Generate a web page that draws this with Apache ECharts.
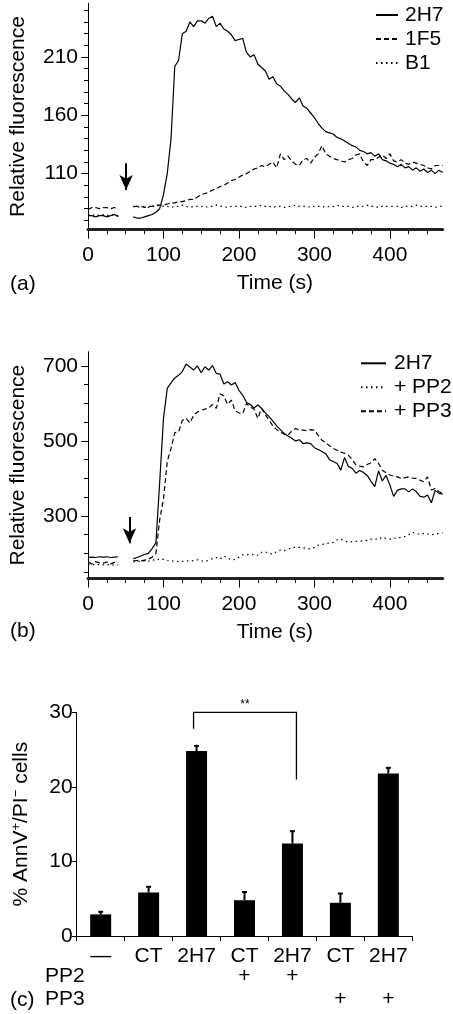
<!DOCTYPE html>
<html><head><meta charset="utf-8">
<script src="https://cdn.jsdelivr.net/npm/echarts@6/dist/echarts.min.js"></script>
<style>html,body{margin:0;padding:0;background:#fff}#c{width:453px;height:1014px}</style>
</head><body><div id="c"></div>
<script>
// ---------- DATA ----------
const timeS = [0,5,10,15,20,25,30,35,40,45,50,55,60,65,70,75,80,85,90,95,100,105,110,115,120,125,130,135,140,145,150,155,160,165,170,175,180,185,190,195,200,205,210,215,220,225,230,235,240,245,250,255,260,265,270,275,280,285,290,295,300,305,310,315,320,325,330,335,340,345,350,355,360,365,370,375,380,385,390,395,400,405,410,415,420,425,430,435,440,445,450,455,460,465,470];

// Panel (a)
const a2H7 = [74,74,73,74,74,73,74,75,73,null,
  null,null,73,72,72,73,74,75,77,80,
  92,110,140,202,207,230,232,240,236,241,
  241,239,243,245,236,239,234,232,229,224,
  225,226,214,210,212,204,201,198,191,193,
  187,185,181,178,174,171,175,168,166,162,
  158,153,149,146,145,144,141,140,138,136,
  134,133,130,129,127,128,125,127,122,121,
  119,118,116,118,115,116,113,115,112,114,
  111,113,110,113,111];
const a1F5 = [79,81,81,80,81,81,80,81,80,null,
  null,null,82,82,82,81,82,82,83,83,
  83,84,85,85,86,86,87,88,88,90,
  92,93,94,96,97,99,100,102,104,105,
  107,109,110,112,114,115,117,116,118,120,
  115,127,122,125,121,118,117,122,123,119,
  124,127,134,127,125,123,122,121,120,122,
  123,126,127,120,117,122,122,124,126,123,
  127,121,120,122,119,118,120,119,118,117,
  115,114,117,117,117];
const aB1 = [75,74,75,74,75,74,75,75,74,null,
  null,null,82,81,82,82,81,82,82,83,
  82,82,81,82,82,83,82,81,82,82,
  82,81,82,82,83,82,82,81,82,82,
  82,82,81,82,82,82,83,82,82,81,
  82,82,81,82,82,83,82,82,82,81,
  82,82,82,81,82,82,83,82,82,82,
  81,82,82,82,83,82,82,81,82,82,
  82,82,82,81,82,82,82,83,82,82,
  82,82,81,82,82];
const aYTicks = [110,160,210];
const aXTicks = [0,100,200,300,400];
const aArrow = [50.5, 119, 96];   // time, start value, end value

// Panel (b)
const b2H7 = [189,190,189,191,190,191,189,190,191,null,
  null,null,186,189,193,197,200,213,228,390,
  560,640,655,668,675,685,705,697,689,700,
  682,698,689,701,680,678,652,658,649,656,
  635,622,603,597,588,596,587,575,565,553,
  540,530,520,513,507,500,503,493,495,493,
  482,477,472,466,450,445,440,422,456,432,
  427,414,421,416,408,392,378,420,393,408,
  382,352,368,372,372,364,372,365,352,350,
  356,335,368,360,358];
const bPP2 = [170,168,172,170,169,171,168,170,169,null,
  null,null,178,179,178,180,179,183,181,186,
  184,181,179,180,178,179,180,179,181,183,
  180,178,182,186,189,185,193,188,182,184,
  190,196,197,196,198,195,203,204,200,198,
  205,209,207,212,214,217,216,215,213,212,
  216,222,224,225,228,229,236,238,233,230,
  231,232,232,234,235,238,239,237,243,240,
  238,241,240,244,245,250,256,254,250,253,
  252,249,252,253,255];
const bPP3 = [176,172,178,175,174,177,172,176,174,null,
  null,null,180,181,180,182,184,190,200,290,
  345,445,480,522,524,555,560,548,568,577,
  582,585,588,597,587,626,620,598,609,580,
  575,573,600,590,585,560,587,570,555,540,
  530,524,518,515,527,533,529,529,527,530,
  529,515,502,495,487,480,475,470,467,462,
  450,436,433,431,437,442,453,440,422,415,
  409,406,404,400,402,404,401,400,395,391,
  404,369,373,365,360];
const bYTicks = [300,500,700];
const bXTicks = [0,100,200,300,400];
const bArrow = [55, 297, 227];

// Panel (c)
const cCats = ['\u2014','CT','2H7','CT','2H7','CT','2H7'];
const cPP2 = ['','','','+','+','',''];
const cPP3 = ['','','','','','+','+'];
const cMeans = [2.9, 5.85, 24.8, 4.8, 12.4, 4.45, 21.8];
const cErrs = [0.35, 0.75, 0.7, 1.1, 1.65, 1.25, 0.75];
const cBracket = [2, 4, 27.8, 30.0, 21.0]; // left cat, right cat, left foot, top, right foot
const cSig = '**';

// ---------- CHART ----------
const FF = '"Liberation Sans", Arial, Helvetica, sans-serif';
const BLK = '#000';
const FS = 21;
const chart = echarts.init(document.getElementById('c'), null, {renderer: 'canvas'});

function minorVals(lo, hi, step, majors) {
  const out = [];
  for (let v = lo; v <= hi + 1e-9; v += step) if (majors.indexOf(v) < 0) out.push(v);
  return out;
}
function pairs(vals) { return timeS.map((t, i) => [t, vals[i] === null ? '-' : vals[i]]); }

const lab = {fontFamily: FF, fontSize: FS, color: BLK};

function xMain(gi, ticks) {
  return {type: 'value', gridIndex: gi, min: 0, max: 470, position: 'bottom',
    axisLine: {show: true, lineStyle: {color: '#222', width: 3}},
    axisTick: {show: true, customValues: ticks, length: 9, lineStyle: {color: BLK, width: 1}},
    axisLabel: Object.assign({customValues: ticks, margin: 15}, lab),
    splitLine: {show: false},
    name: 'Time (s)', nameLocation: 'middle', nameGap: 43,
    nameTextStyle: Object.assign({padding: [0, 0, 0, 19]}, lab)};
}
function xMinor(gi, ticks) {
  return {type: 'value', gridIndex: gi, min: 0, max: 470, position: 'bottom',
    axisLine: {show: false},
    axisTick: {show: true, customValues: minorVals(25, 450, 25, ticks), length: 4.5, lineStyle: {color: BLK, width: 1}},
    axisLabel: {show: false}, splitLine: {show: false}};
}
function yMain(gi, mn, mx, ticks) {
  return {type: 'value', gridIndex: gi, min: mn, max: mx, position: 'left',
    axisLine: {show: true, lineStyle: {color: BLK, width: 1}},
    axisTick: {show: true, customValues: ticks, length: 7, lineStyle: {color: BLK, width: 1}},
    axisLabel: Object.assign({customValues: ticks, margin: 10}, lab),
    splitLine: {show: false},
    name: 'Relative fluorescence', nameLocation: 'middle', nameGap: 59,
    nameTextStyle: lab};
}
function yMinor(gi, mn, mx, vals) {
  return {type: 'value', gridIndex: gi, min: mn, max: mx, position: 'left',
    axisLine: {show: false},
    axisTick: {show: true, customValues: vals, length: 4, lineStyle: {color: BLK, width: 1}},
    axisLabel: {show: false}, splitLine: {show: false}};
}
function lineSeries(name, xi, yi, vals, type) {
  return {type: 'line', name: name, xAxisIndex: xi, yAxisIndex: yi, data: pairs(vals),
    symbol: 'none', connectNulls: false, animation: false,
    lineStyle: {color: BLK, width: 1.2, type: type}, itemStyle: {color: BLK}};
}
function arrowMark(arr) {
  return {silent: true, symbol: ['none', 'arrow'], symbolSize: [10, 15],
    lineStyle: {color: BLK, width: 2, type: 'solid'}, label: {show: false},
    data: [[{coord: [arr[0], arr[1]]}, {coord: [arr[0], arr[2]]}]]};
}

const DASH = [5, 3];
const DOT = [1.5, 3.5];

const s_a2H7 = lineSeries('2H7', 0, 0, a2H7, 'solid');
s_a2H7.markLine = arrowMark(aArrow);
const s_b2H7 = lineSeries('2H7', 2, 2, b2H7, 'solid');
s_b2H7.markLine = arrowMark(bArrow);

const legendBase = {orient: 'vertical', padding: 0, itemHeight: 12, itemGap: 3, selectedMode: false,
  itemStyle: {opacity: 0, borderWidth: 0}};

const option = {
  animation: false,
  backgroundColor: '#fff',
  textStyle: {fontFamily: FF},
  grid: [
    {left: 86.7, top: 3.3, width: 356, height: 226.4},
    {left: 86.7, top: 351.7, width: 356, height: 226.8},
    {left: 76.7, top: 712.3, width: 335.6, height: 223.7}
  ],
  legend: [
    Object.assign({data: ['2H7', '1F5', 'B1'], left: 375, top: 4.5, itemWidth: 22,
      textStyle: Object.assign({lineHeight: 21, padding: [0, 0, 0, 2]}, lab)}, legendBase),
    Object.assign({data: ['2H7', '+ PP2', '+ PP3'], left: 360, top: 352.8, itemWidth: 25,
      textStyle: Object.assign({lineHeight: 21, padding: [0, 0, 0, 3]}, lab)}, legendBase)
  ],
  xAxis: [
    xMain(0, aXTicks), xMinor(0, aXTicks),
    xMain(1, bXTicks), xMinor(1, bXTicks),
    {type: 'category', gridIndex: 2, data: cCats, position: 'bottom',
      axisLine: {show: true, lineStyle: {color: BLK, width: 1}},
      axisTick: {show: true, alignWithLabel: false, length: 5, lineStyle: {color: BLK}},
      axisLabel: Object.assign({margin: 10, interval: 0}, lab), splitLine: {show: false}},
    {type: 'category', gridIndex: 2, data: cPP2, position: 'bottom', offset: 20,
      axisLine: {show: false}, axisTick: {show: false},
      axisLabel: Object.assign({margin: 10, interval: 0}, lab)},
    {type: 'category', gridIndex: 2, data: cPP3, position: 'bottom', offset: 43,
      axisLine: {show: false}, axisTick: {show: false},
      axisLabel: Object.assign({margin: 10, interval: 0}, lab)}
  ],
  yAxis: [
    yMain(0, 62, 256, aYTicks), yMinor(0, 62, 256, minorVals(70, 250, 10, aYTicks)),
    yMain(1, 133, 738, bYTicks), yMinor(1, 133, 738, minorVals(150, 650, 50, bYTicks)),
    {type: 'value', gridIndex: 2, min: 0, max: 30, interval: 10, position: 'left',
      axisLine: {show: true, lineStyle: {color: BLK, width: 1}},
      axisTick: {show: true, length: 5, lineStyle: {color: BLK}},
      axisLabel: Object.assign({margin: 4}, lab), splitLine: {show: false},
      name: '% AnnV{sup|+}/PI{sup|\u2212} cells', nameLocation: 'middle', nameGap: 44,
      nameTextStyle: Object.assign({lineHeight: 23, rich: {
        sup: {fontFamily: FF, fontSize: 13, color: BLK, verticalAlign: 'top', lineHeight: 23}
      }}, lab)}
  ],
  series: [
    s_a2H7,
    lineSeries('1F5', 0, 0, a1F5, DASH),
    lineSeries('B1', 0, 0, aB1, DOT),
    s_b2H7,
    lineSeries('+ PP2', 2, 2, bPP2, DOT),
    lineSeries('+ PP3', 2, 2, bPP3, DASH),
    {type: 'bar', xAxisIndex: 4, yAxisIndex: 4, data: cMeans, barWidth: 21,
      itemStyle: {color: BLK}, z: 2},
    {type: 'custom', xAxisIndex: 4, yAxisIndex: 4, z: 3,
      data: cMeans.map((m, i) => [i, m, cErrs[i]]),
      renderItem: function (params, api) {
        const i = api.value(0), m = api.value(1), e = api.value(2);
        const b = api.coord([i, m]), t = api.coord([i, m + e]);
        return {type: 'group', children: [
          {type: 'line', shape: {x1: b[0], y1: b[1], x2: t[0], y2: t[1]}, style: {stroke: BLK, lineWidth: 2}},
          {type: 'line', shape: {x1: t[0] - 2.5, y1: t[1], x2: t[0] + 2.5, y2: t[1]}, style: {stroke: BLK, lineWidth: 2}}
        ]};
      }},
    {type: 'custom', xAxisIndex: 4, yAxisIndex: 4, z: 3, clip: false,
      data: [cBracket],
      renderItem: function (params, api) {
        const l = api.value(0), r = api.value(1);
        const p1 = api.coord([l, api.value(2)]), p2 = api.coord([l, api.value(3)]);
        const p3 = api.coord([r, api.value(3)]), p4 = api.coord([r, api.value(4)]);
        const dl = -3, dr = 4;
        return {type: 'group', children: [
          {type: 'polyline', shape: {points: [[p1[0] + dl, p1[1]], [p2[0] + dl, p2[1]], [p3[0] + dr, p3[1]], [p4[0] + dr, p4[1]]]},
            style: {stroke: BLK, lineWidth: 1.3, fill: null}},
          {type: 'text', x: (p2[0] + dl + p3[0] + dr) / 2, y: p2[1] - 8,
            style: {text: cSig, fontFamily: FF, fontSize: 12, fill: BLK, align: 'center', verticalAlign: 'middle'}}
        ]};
      }}
  ],
  graphic: [
    {type: 'text', left: 10, top: 274, style: {text: '(a)', fontFamily: FF, fontSize: FS, fill: BLK}},
    {type: 'text', left: 10, top: 621, style: {text: '(b)', fontFamily: FF, fontSize: FS, fill: BLK}},
    {type: 'text', left: 10, top: 990, style: {text: '(c)', fontFamily: FF, fontSize: FS, fill: BLK}},
    {type: 'text', left: 45, top: 966, style: {text: 'PP2', fontFamily: FF, fontSize: FS, fill: BLK}},
    {type: 'text', left: 45, top: 989, style: {text: 'PP3', fontFamily: FF, fontSize: FS, fill: BLK}}
  ]
};
chart.setOption(option);
</script>
</body></html>
